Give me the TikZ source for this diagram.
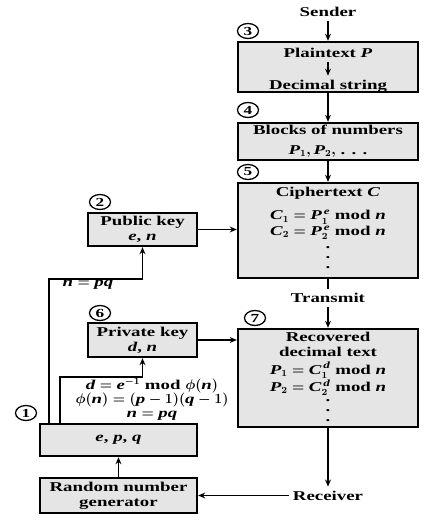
\documentclass[tikz,border=0pt]{standalone}
\usepackage{fontspec}
\usepackage{amsmath}
\setmainfont{Liberation Serif}[FakeStretch=1.4]
\usetikzlibrary{arrows.meta,calc,shapes.geometric}
\definecolor{boxgray}{gray}{0.9}
\newcommand{\mv}[1]{\textit{#1}}

\begin{document}
\begin{tikzpicture}[x=0.3mm, y=-0.3mm,
    every node/.style={font=\fontsize{11.5}{13}\selectfont\bfseries\boldmath},
    stage/.style={draw=black, line width=2pt, fill=boxgray, inner sep=0pt, align=center},
    num/.style={draw=black, ellipse, line width=1.1pt, inner sep=0pt, minimum width=6.3mm, minimum height=4.5mm, font=\fontsize{10.5}{10}\selectfont\bfseries},
    vdot/.style={align=center, inner sep=0pt, font=\fontsize{11.5}{8.5}\selectfont\bfseries},
    arr/.style={line width=1.6pt, -{Stealth[length=6pt,width=5pt]}},
    wire/.style={line width=1.6pt}]
\useasboundingbox (0,0) rectangle (436,529);

% sender side
\node (snd) at (328,12) {Sender};
\node[stage, minimum width=54mm, minimum height=15mm] (plain) at (328,67) {};
\node (ptext) at (328,53) {Plaintext \mv{P}};
\node (dstr) at (328,86) {Decimal string};
\node[stage, minimum width=54mm, minimum height=11.1mm] (blocks) at (328,141.5) {Blocks of numbers\\[4pt]$\mv{P}_1, \mv{P}_2,$ . . .};
\node[stage, minimum width=54mm, minimum height=28.5mm] (cipher) at (328,230.5) {};
\node (ctitle) at (328,193) {Ciphertext \mv{C}};
\node[align=center] (cform) at (328,225) {$\mv{C}_1 = \mv{P}_1^{\,\mv{e}}$ mod \mv{n}\\$\mv{C}_2 = \mv{P}_2^{\,\mv{e}}$ mod \mv{n}};
\node[vdot] (cdots) at (328,258) {.\\.\\.};

% receiver side
\node (trans) at (328,298) {Transmit};
\node[stage, minimum width=54mm, minimum height=29.4mm] (recov) at (328,378) {};
\node[align=center] (rtitle) at (328,344.5) {Recovered\\decimal text};
\node[align=center] (rform) at (328,379) {$\mv{P}_1 = \mv{C}_1^{\,\mv{d}}$ mod \mv{n}\\$\mv{P}_2 = \mv{C}_2^{\,\mv{d}}$ mod \mv{n}};
\node[vdot] (rdots) at (328,411) {.\\.\\.};
\node (rcv) at (328,495.5) {Receiver};

% key generation
\node[stage, minimum width=32.7mm, minimum height=9.9mm] (pub) at (142.5,229.5) {Public key\\\mv{e}, \mv{n}};
\node[stage, minimum width=32.7mm, minimum height=10.2mm] (priv) at (142.5,340) {Private key\\\mv{d}, \mv{n}};
\node[stage, minimum width=47.1mm, minimum height=9.6mm] (epq) at (118.5,440) {\mv{e}, \mv{p}, \mv{q}};
\node[stage, minimum width=47.1mm, minimum height=10.5mm] (rng) at (118.5,495.5) {Random number\\generator};
\node (npq) at (88,285) {$\mv{n} = \mv{pq}$};
\node[align=center, font=\fontsize{11.5}{12}\selectfont\bfseries\boldmath] (keyeq) at (152,399) {$\mv{d} = \mv{e}^{-1}$ mod $\phi(\mv{n})$\\$\phi(\mv{n}) = (\mv{p} - 1)(\mv{q} - 1)$\\$\mv{n} = \mv{pq}$};

% step numbers
\node[num] (n1) at (26,413) {1};
\node[num] (n2) at (100,202) {2};
\node[num] (n3) at (248,31) {3};
\node[num] (n4) at (248,110) {4};
\node[num] (n5) at (248,172) {5};
\node[num] (n6) at (100,313) {6};
\node[num] (n7) at (255,318) {7};

% connectors
\draw[arr] (snd) -- (plain);
\draw[arr] (ptext) -- (dstr);
\draw[arr] (plain) -- (blocks);
\draw[arr] (blocks) -- (cipher);
\draw[wire] (cipher) -- (trans);
\draw[arr] (trans) -- (recov);
\draw[arr] (recov) -- (rcv);
\draw[arr] (rcv) -- (rng);
\draw[arr] (rng) -- (epq);
\draw[arr] (pub.east) -- (pub.east -| cipher.west);
\draw[arr] (priv.east) -- (priv.east -| recov.west);
\draw[arr] ($(epq.north west)+(10,0)$) |- ($(pub.south)+(0,32)$) -- (pub);
\draw[arr] ($(epq.north west)+(21,0)$) |- ($(priv.south)+(0,19)$) -- (priv);
\end{tikzpicture}
\end{document}
